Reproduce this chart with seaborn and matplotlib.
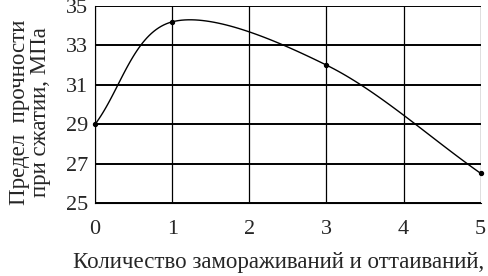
import matplotlib.pyplot as plt
import numpy as np
import pandas as pd
import seaborn as sns

cycles = [0, 1, 3, 5]
strength = [29.0, 34.2, 32.0, 26.5]
x_ticks = [0, 1, 2, 3, 4, 5]
y_ticks = [25, 27, 29, 31, 33, 35]


def smooth(xs, ys, n=40):
    # smoothed line like Excel's: cubic Bezier segments, Catmull-Rom tangents
    # inside, chord-based tangents at both ends
    px = np.array([xs[0]] + list(xs) + [xs[-1]], dtype=float)
    py = np.array([ys[0]] + list(ys) + [ys[-1]], dtype=float)
    out_x, out_y = [], []
    t = np.linspace(0, 1, n)
    last = len(px) - 3
    for i in range(1, len(px) - 2):
        p0 = np.array([px[i], py[i]])
        p3 = np.array([px[i + 1], py[i + 1]])
        c1 = p0 + (p3 - np.array([px[i - 1], py[i - 1]])) / 6
        c2 = p3 - (np.array([px[i + 2], py[i + 2]]) - p0) / 6
        if i == 1:
            c1 = p0 + (p3 - p0) / 3
        if i == last:
            c2 = p3 - (p3 - p0) / 3
        b = ((1 - t) ** 3)[:, None] * p0 + (3 * (1 - t) ** 2 * t)[:, None] * c1 \
            + (3 * (1 - t) * t ** 2)[:, None] * c2 + (t ** 3)[:, None] * p3
        out_x.extend(b[:, 0])
        out_y.extend(b[:, 1])
    return np.array(out_x), np.array(out_y)


sns.set_style("white")
plt.rcParams["font.family"] = ["Liberation Serif", "DejaVu Serif"]

fig = plt.figure(figsize=(4.88, 2.76), dpi=100)
ax = fig.add_axes([0.195, 0.265, 0.790, 0.713])

sx, sy = smooth(cycles, strength)
curve = pd.DataFrame({"x": sx, "y": sy})
sns.lineplot(data=curve, x="x", y="y", ax=ax, color="black", lw=1.0, sort=False)
ax.scatter(cycles, strength, color="black", s=8, zorder=3, clip_on=False)

ax.set_xlim(0, 5)
ax.set_ylim(25, 35)
ax.set_xticks(x_ticks)
ax.set_yticks(y_ticks)
ax.tick_params(axis="both", labelsize=16, length=3, color="black", direction="out")
ax.tick_params(axis="x", pad=9)
ax.tick_params(axis="y", pad=2)
ax.grid(axis="y", color="black", lw=1.4)
ax.grid(axis="x", color="black", lw=0.9)
for side in ["top", "right"]:
    ax.spines[side].set_visible(False)
ax.spines["left"].set_color("black")
ax.spines["bottom"].set_color("black")
ax.set_xlabel("")
ax.set_ylabel("")

fig.text(0.062, 0.594, "Предел  прочности\nпри сжатии, МПа", rotation=90,
         ha="center", va="center", fontsize=16.5, linespacing=1.0)
fig.text(0.15, 0.05, "Количество замораживаний и оттаиваний,", ha="left",
         va="center", fontsize=16.5)

fig.savefig("out.png", dpi=100)
